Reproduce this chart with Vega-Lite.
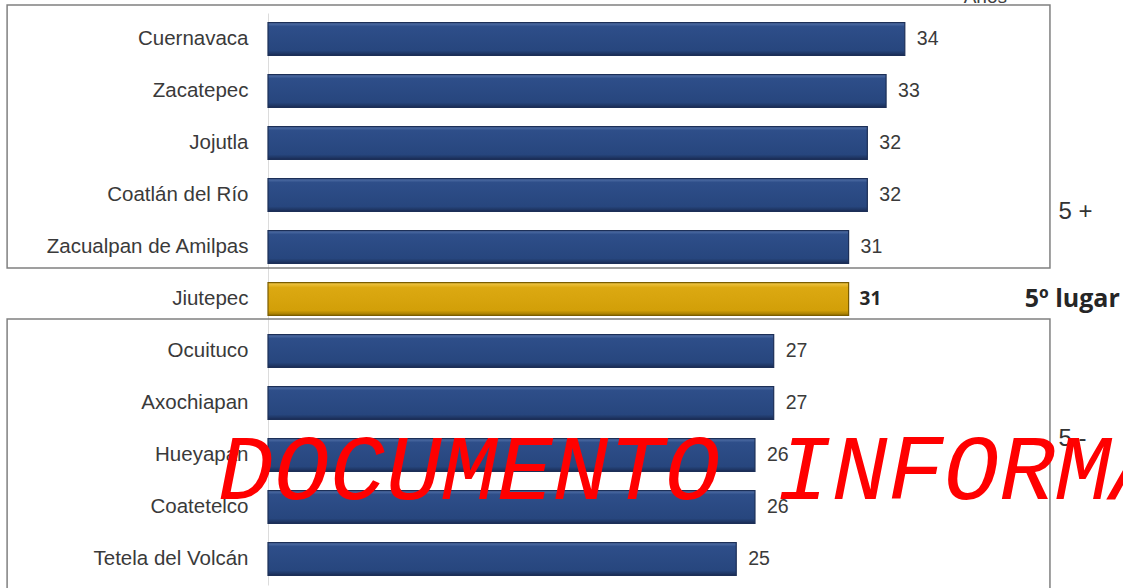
{
  "$schema": "https://vega.github.io/schema/vega-lite/v6.json",
  "width": 855,
  "height": 572,
  "autosize": {"type": "none"},
  "padding": {"left": 268, "top": 13, "right": 0, "bottom": 3},
  "background": "white",
  "config": {
    "view": {"stroke": null},
    "font": "Liberation Sans",
    "axisY": {"domain": true, "domainColor": "#dcdcdc", "ticks": false, "labelFontSize": 20.5, "labelColor": "#3a3a3a", "labelPadding": 20, "labelFont": "Liberation Sans", "labelLimit": 300, "title": null}
  },
  "datasets": {
    "cities": [
      {"city": "Cuernavaca", "value": 34},
      {"city": "Zacatepec", "value": 33},
      {"city": "Jojutla", "value": 32},
      {"city": "Coatlán del Río", "value": 32},
      {"city": "Zacualpan de Amilpas", "value": 31},
      {"city": "Jiutepec", "value": 31},
      {"city": "Ocuituco", "value": 27},
      {"city": "Axochiapan", "value": 27},
      {"city": "Hueyapan", "value": 26},
      {"city": "Coatetelco", "value": 26},
      {"city": "Tetela del Volcán", "value": 25}
    ],
    "boxes": [
      {"group": "5 +", "first": "Cuernavaca", "last": "Zacualpan de Amilpas"},
      {"group": "5 -", "first": "Ocuituco", "last": "Tetela del Volcán"}
    ]
  },
  "layer": [
    {
      "data": {"name": "cities"},
      "mark": {"type": "bar", "stroke": "#1c2f57", "strokeWidth": 1.2,
        "fill": {"gradient": "linear", "x1": 0, "y1": 0, "x2": 0, "y2": 1,
          "stops": [{"offset": 0, "color": "#5574aa"}, {"offset": 0.12, "color": "#2e4e89"}, {"offset": 0.85, "color": "#27467e"}, {"offset": 1, "color": "#1a2d55"}]}},
      "transform": [{"filter": "datum.city !== 'Jiutepec'"}],
      "encoding": {
        "y": {"field": "city", "type": "nominal", "title": null,
          "scale": {"domain": ["Cuernavaca", "Zacatepec", "Jojutla", "Coatlán del Río", "Zacualpan de Amilpas", "Jiutepec", "Ocuituco", "Axochiapan", "Hueyapan", "Coatetelco", "Tetela del Volcán"], "paddingInner": 0.37, "paddingOuter": 0.185}},
        "x": {"field": "value", "type": "quantitative", "scale": {"domain": [0, 45.65], "nice": false}, "axis": null}
      }
    },
    {
      "data": {"name": "cities"},
      "mark": {"type": "bar", "stroke": "#7a5c00", "strokeWidth": 1.2,
        "fill": {"gradient": "linear", "x1": 0, "y1": 0, "x2": 0, "y2": 1,
          "stops": [{"offset": 0, "color": "#f2c94a"}, {"offset": 0.15, "color": "#dca912"}, {"offset": 0.85, "color": "#d29f08"}, {"offset": 1, "color": "#9a7400"}]}},
      "transform": [{"filter": "datum.city === 'Jiutepec'"}],
      "encoding": {
        "y": {"field": "city", "type": "nominal", "title": null},
        "x": {"field": "value", "type": "quantitative", "axis": null}
      }
    },
    {
      "data": {"name": "cities"},
      "mark": {"type": "text", "align": "left", "baseline": "middle", "dx": 12, "fontSize": 19.5, "color": "#3a3a3a", "font": "Liberation Sans"},
      "transform": [{"filter": "datum.city !== 'Jiutepec'"}],
      "encoding": {
        "y": {"field": "city", "type": "nominal", "title": null},
        "x": {"field": "value", "type": "quantitative", "axis": null},
        "text": {"field": "value", "type": "quantitative"}
      }
    },
    {
      "data": {"name": "cities"},
      "mark": {"type": "text", "align": "left", "baseline": "middle", "dx": 11, "fontSize": 19, "fontWeight": "bold", "color": "#262626", "font": "Open Sans"},
      "transform": [{"filter": "datum.city === 'Jiutepec'"}],
      "encoding": {
        "y": {"field": "city", "type": "nominal", "title": null},
        "x": {"field": "value", "type": "quantitative", "axis": null},
        "text": {"field": "value", "type": "quantitative"}
      }
    },
    {
      "data": {"name": "boxes"},
      "transform": [{"filter": "datum.group === '5 +'"}],
      "mark": {"type": "rect", "fillOpacity": 0, "stroke": "#808080", "strokeWidth": 1.5, "yOffset": -17.6, "y2Offset": 4.6, "clip": false},
      "encoding": {
        "y": {"field": "first", "type": "nominal", "bandPosition": 0, "title": null},
        "y2": {"field": "last", "bandPosition": 1},
        "x": {"datum": -13.93, "type": "quantitative", "axis": null},
        "x2": {"datum": 41.75}
      }
    },
    {
      "data": {"name": "boxes"},
      "transform": [{"filter": "datum.group === '5 -'"}],
      "mark": {"type": "rect", "fillOpacity": 0, "stroke": "#808080", "strokeWidth": 1.5, "yOffset": -15.6, "y2Offset": 20, "clip": false},
      "encoding": {
        "y": {"field": "first", "type": "nominal", "bandPosition": 0, "title": null},
        "y2": {"field": "last", "bandPosition": 1},
        "x": {"datum": -13.93, "type": "quantitative", "axis": null},
        "x2": {"datum": 41.75}
      }
    },
    {
      "data": {"values": [{"t": "5 +"}]},
      "mark": {"type": "text", "align": "left", "baseline": "middle", "fontSize": 24, "color": "#333333", "font": "Liberation Sans", "dy": 17},
      "encoding": {
        "x": {"datum": 42.2, "type": "quantitative", "axis": null},
        "y": {"datum": "Coatlán del Río", "type": "nominal", "title": null},
        "text": {"field": "t"}
      }
    },
    {
      "data": {"values": [{"t": "5 -"}]},
      "mark": {"type": "text", "align": "left", "baseline": "middle", "fontSize": 24, "color": "#333333", "font": "Liberation Sans", "dy": -16},
      "encoding": {
        "x": {"datum": 42.2, "type": "quantitative", "axis": null},
        "y": {"datum": "Hueyapan", "type": "nominal", "title": null},
        "text": {"field": "t"}
      }
    },
    {
      "data": {"values": [{"t": "5º lugar"}]},
      "mark": {"type": "text", "align": "left", "baseline": "middle", "fontSize": 25, "fontWeight": "bold", "color": "#262626", "font": "Open Sans"},
      "encoding": {
        "x": {"datum": 40.4, "type": "quantitative", "axis": null},
        "y": {"datum": "Jiutepec", "type": "nominal", "title": null},
        "text": {"field": "t"}
      }
    },
    {
      "data": {"values": [{"t": "Años"}]},
      "mark": {"type": "text", "align": "center", "baseline": "alphabetic", "fontSize": 19, "color": "#404040", "font": "Liberation Sans", "dy": -36},
      "encoding": {
        "x": {"datum": 38.3, "type": "quantitative", "axis": null},
        "y": {"datum": "Cuernavaca", "type": "nominal", "title": null},
        "text": {"field": "t"}
      }
    },
    {
      "data": {"values": [{"t": "DOCUMENTO INFORMATIVO"}]},
      "mark": {"type": "text", "align": "left", "baseline": "alphabetic", "fontSize": 93, "fontStyle": "italic", "color": "#ff0000", "font": "Liberation Mono", "dy": 44},
      "encoding": {
        "x": {"datum": -2.67, "type": "quantitative", "axis": null},
        "y": {"datum": "Hueyapan", "type": "nominal", "title": null},
        "text": {"field": "t"}
      }
    }
  ]
}
